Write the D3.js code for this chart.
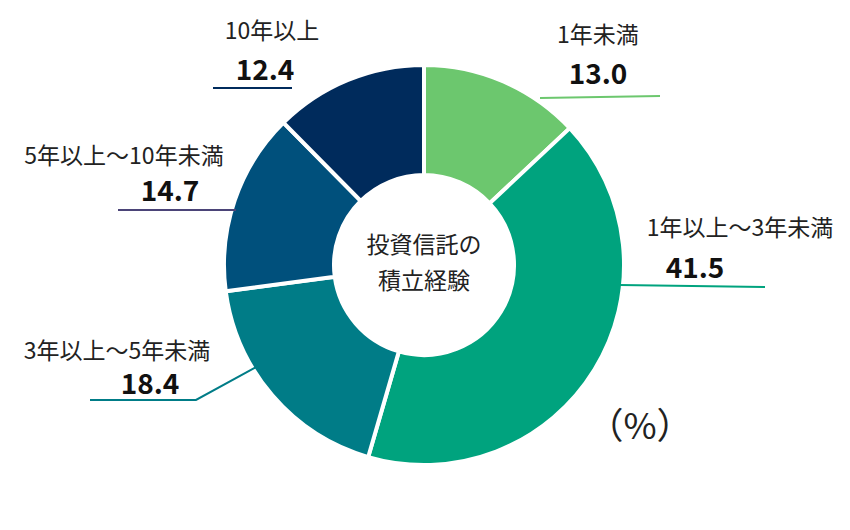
<!DOCTYPE html>
<html><head><meta charset="utf-8">
<script src="https://cdn.jsdelivr.net/npm/d3@7"></script>
<style>body{margin:0;background:#fff;font-family:"Noto Sans CJK JP","Noto Sans",sans-serif}</style>
</head><body><div id="chart"></div>
<script>
const categories = ['1年未満', '1年以上～3年未満', '3年以上～5年未満', '5年以上～10年未満', '10年以上'];
const values = [13.0, 41.5, 18.4, 14.7, 12.4];
const colors = ['#6CC76E', '#00A37E', '#007C87', '#00507C', '#002B5C'];
const lineColors = ['#6CC76E', '#00A37E', '#007C87', '#4B4478', '#002B5C'];

// label layout per slice: name pos, value pos, leader polyline
const labelLayout = [
  { name: [598, 43], value: [598, 84], line: [[540, 98], [660, 96]] },
  { name: [740, 236], value: [695, 278], line: [[620, 285], [765, 287]] },
  { name: [117, 359], value: [150, 394], line: [[258, 366], [196, 400], [90, 400]] },
  { name: [124, 164], value: [170, 201], line: [[236, 210], [118, 210]] },
  { name: [272, 39], value: [265, 80], line: [[292, 88], [213, 88]] }
];

const W = 850, H = 530, cx = 424, cy = 265;
const svg = d3.select('#chart').append('svg').attr('width', W).attr('height', H);

const pie = d3.pie().sort(null).value(d => d)(values);
const arc = d3.arc().innerRadius(90).outerRadius(200);

svg.append('g')
  .attr('transform', `translate(${cx},${cy})`)
  .selectAll('path')
  .data(pie)
  .join('path')
  .attr('d', arc)
  .attr('fill', (d, i) => colors[i])
  .attr('stroke', '#fff')
  .attr('stroke-width', 4);

const line = d3.line();
labelLayout.forEach((l, i) => {
  svg.append('path').attr('d', line(l.line)).attr('fill', 'none')
    .attr('stroke', lineColors[i]).attr('stroke-width', 2);
  svg.append('text').attr('x', l.name[0]).attr('y', l.name[1])
    .attr('text-anchor', 'middle').attr('font-size', 23).attr('fill', '#222')
    .text(categories[i]);
  svg.append('text').attr('x', l.value[0]).attr('y', l.value[1])
    .attr('text-anchor', 'middle').attr('font-size', 28).attr('font-weight', 'bold').attr('fill', '#111')
    .text(values[i].toFixed(1));
});

svg.append('text').attr('x', cx).attr('y', 253).attr('text-anchor', 'middle')
  .attr('font-size', 23).attr('fill', '#222').text('投資信託の');
svg.append('text').attr('x', cx).attr('y', 289).attr('text-anchor', 'middle')
  .attr('font-size', 23).attr('fill', '#222').text('積立経験');

svg.append('text').attr('x', 640).attr('y', 439).attr('text-anchor', 'middle')
  .attr('font-size', 36).attr('fill', '#222').text('（%）');
</script></body></html>
